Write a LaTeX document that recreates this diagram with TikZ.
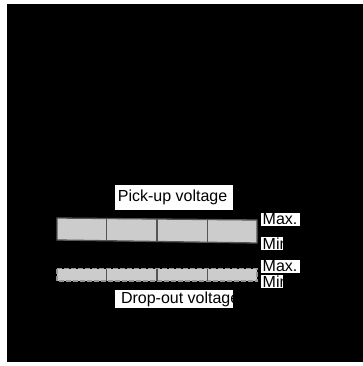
\documentclass[tikz,border=0pt]{standalone}
\usepackage{fontspec}
\setmainfont{Liberation Sans}
\begin{document}
\begin{tikzpicture}[x=1pt,y=-1pt,
  lbl/.style={inner sep=0pt, anchor=base west, font=\fontsize{16}{19}\selectfont},
  barfill/.style={fill={rgb,255:red,204;green,204;blue,204}},
  barline/.style={draw={rgb,255:red,85;green,85;blue,85}, line width=1.3pt},
  dashline/.style={draw={rgb,255:red,150;green,150;blue,150}, line width=1.5pt, dash pattern=on 5pt off 2pt}]
\useasboundingbox (0,0) rectangle (363,366);
\fill[black] (7,4) rectangle (363,362);
% pick-up bar
\coordinate (p1) at (57,218);
\coordinate (p2) at (257,220);
\coordinate (p3) at (257,243);
\coordinate (p4) at (57,240);
\path[barfill] (p1) -- (p2) -- (p3) -- (p4) -- cycle;
\draw[barline] (p1) -- (p2) -- (p3) -- (p4) -- cycle;
\draw[barline] (106.7,218.5) -- (106.7,240.7);
\draw[barline] (157,219) -- (157,241.5);
\draw[barline] (207.7,219.5) -- (207.7,242.3);
% drop-out bar
\path[barfill] (57,268.5) rectangle (257,281);
\draw[dashline] (57,268.5) rectangle (257,281);
\draw[barline] (106.7,268.5) -- (106.7,281);
\draw[barline] (157,268.5) -- (157,281);
\draw[barline] (207.7,268.5) -- (207.7,281);
% labels
\fill[white] (114.5,185) rectangle (232.5,209.5);
\begin{scope}\clip (114.5,185) rectangle (232.5,209.5);
\node[lbl] (pu) at (117.7,201.7) {Pick-up voltage};
\end{scope}
\fill[white] (114.5,289.5) rectangle (232.5,308);
\begin{scope}\clip (114.5,289.5) rectangle (232.5,308);
\node[lbl] (do) at (120.8,303.3) {Drop-out voltage};
\end{scope}
\fill[white] (261,212.5) rectangle (300,226);
\begin{scope}\clip (261,212.5) rectangle (300,226);
\node[lbl] (maxa) at (262.5,224.7) {Max.};
\end{scope}
\fill[white] (261,237.3) rectangle (282.7,250);
\begin{scope}\clip (261,237.3) rectangle (282.7,250);
\node[lbl] (mina) at (262.5,249.3) {Min};
\end{scope}
\fill[white] (261,260) rectangle (300,273.3);
\begin{scope}\clip (261,260) rectangle (300,273.3);
\node[lbl] (maxb) at (262.5,271.7) {Max.};
\end{scope}
\fill[white] (261,274.5) rectangle (282.7,288);
\begin{scope}\clip (261,274.5) rectangle (282.7,288);
\node[lbl] (minb) at (262.5,287.3) {Min};
\end{scope}
\end{tikzpicture}
\end{document}
